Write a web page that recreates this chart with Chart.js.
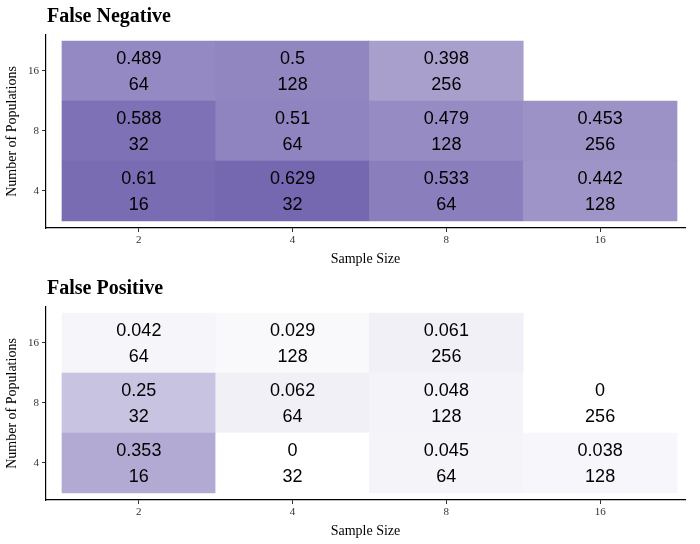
<!DOCTYPE html>
<html>
<head>
<meta charset="utf-8">
<script src="https://cdn.jsdelivr.net/npm/chart.js@4.4.0/dist/chart.umd.min.js"></script>
<style>
  body { margin: 0; background: #fff; }
  .box { width: 700px; height: 272px; position: relative; }
</style>
</head>
<body>
<div class="box"><canvas id="fn"></canvas></div>
<div class="box"><canvas id="fp"></canvas></div>
<script>
const sampleSizes = ['2', '4', '8', '16'];
const populations = ['4', '8', '16']; // bottom to top

// rows follow populations order, columns follow sampleSizes; null = no tile
const fnValues = [
  [0.61, 0.629, 0.533, 0.442],
  [0.588, 0.51, 0.479, 0.453],
  [0.489, 0.5, 0.398, null]
];
const fnCounts = [
  [16, 32, 64, 128],
  [32, 64, 128, 256],
  [64, 128, 256, null]
];
const fpValues = [
  [0.353, 0, 0.045, 0.038],
  [0.25, 0.062, 0.048, 0],
  [0.042, 0.029, 0.061, null]
];
const fpCounts = [
  [16, 32, 64, 128],
  [32, 64, 128, 256],
  [64, 128, 256, null]
];

const maxValue = 0.629;
function fill(v) {
  const t = Math.min(1, v / maxValue);
  const r = Math.round(255 - 138 * t);
  const g = Math.round(255 - 152 * t);
  const b = Math.round(255 - 79 * t);
  return `rgb(${r},${g},${b})`;
}

const tileText = {
  id: 'tileText',
  afterDatasetsDraw(chart, args, opts) {
    const ctx = chart.ctx;
    ctx.save();
    ctx.fillStyle = '#000';
    ctx.font = '18px "Liberation Sans", Arial, sans-serif';
    ctx.textAlign = 'center';
    ctx.textBaseline = 'middle';
    chart.data.datasets.forEach((ds, di) => {
      chart.getDatasetMeta(di).data.forEach((el, i) => {
        const cy = (el.y + el.base) / 2;
        ctx.fillText(String(ds.values[i]), el.x, cy - 12);
        ctx.fillText(String(ds.counts[i]), el.x, cy + 14);
      });
    });
    ctx.font = 'bold 20px "Liberation Serif", "Times New Roman", serif';
    ctx.textAlign = 'left';
    ctx.fillText(opts.title, 47, 17);
    ctx.restore();
  }
};

function makeChart(id, title, values, counts) {
  const datasets = populations.map((p, r) => {
    const pts = [], vals = [], cnts = [], cols = [];
    values[r].forEach((v, c) => {
      if (v === null) return;
      pts.push({ x: c + 1, y: [r + 0.5, r + 1.5] });
      vals.push(v);
      cnts.push(counts[r][c]);
      cols.push(fill(v));
    });
    return {
      data: pts, values: vals, counts: cnts,
      backgroundColor: cols, borderWidth: 0,
      barPercentage: 1, categoryPercentage: 1, grouped: false
    };
  });
  const tickFont = { family: '"Liberation Serif", "Times New Roman", serif', size: 11 };
  const titleFont = { family: '"Liberation Serif", "Times New Roman", serif', size: 14 };
  new Chart(document.getElementById(id), {
    type: 'bar',
    data: { datasets },
    options: {
      responsive: true, maintainAspectRatio: false, animation: false,
      layout: { padding: { top: 35, right: 15, left: 0, bottom: 0 } },
      plugins: { legend: { display: false }, tooltip: { enabled: false }, tileText: { title } },
      scales: {
        x: {
          type: 'linear', min: 0.396, max: 4.552, offset: false,
          afterBuildTicks: s => { s.ticks = sampleSizes.map((_, i) => ({ value: i + 1 })); },
          afterFit: s => { s.height = 44; },
          ticks: { callback: (v) => sampleSizes[v - 1], color: '#333', font: tickFont, padding: 2, maxRotation: 0 },
          grid: { drawOnChartArea: false, offset: false, tickLength: 4, color: '#333' },
          border: { color: '#000', width: 1.2 },
          title: { display: true, text: 'Sample Size', color: '#000', font: titleFont, padding: { top: 0 } }
        },
        y: {
          type: 'linear', min: 0.383, max: 3.6,
          afterBuildTicks: s => { s.ticks = populations.map((_, i) => ({ value: i + 1 })); },
          afterFit: s => { s.width = 46; },
          ticks: { callback: (v) => populations[v - 1], color: '#333', font: tickFont, padding: 3 },
          grid: { drawOnChartArea: false, tickLength: 4, color: '#333' },
          border: { color: '#000', width: 1.2 },
          title: { display: true, text: 'Number of Populations', color: '#000', font: titleFont, padding: { bottom: 2 } }
        }
      }
    },
    plugins: [tileText]
  });
}

makeChart('fn', 'False Negative', fnValues, fnCounts);
makeChart('fp', 'False Positive', fpValues, fpCounts);
</script>
</body>
</html>
